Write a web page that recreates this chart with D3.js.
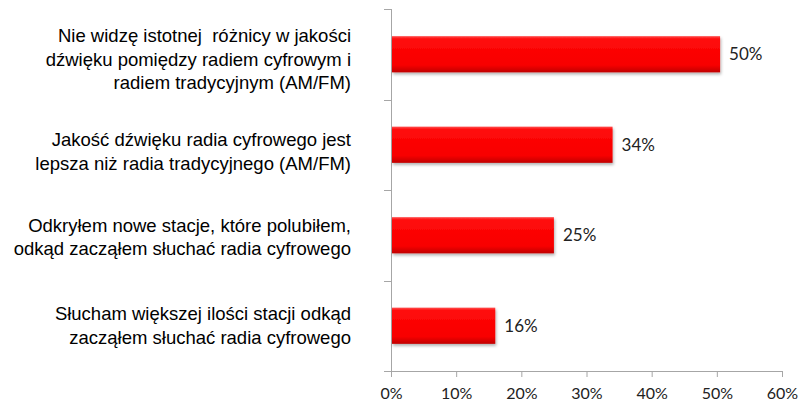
<!DOCTYPE html>
<html lang="pl">
<head>
    <meta charset="UTF-8">
    <title>Radio cyfrowe</title>
    <script src="https://d3js.org/d3.v7.min.js"></script>
    <style>
        body {
            margin: 0;
            background: #fff;
        }
        .cat {
            font-family: "Liberation Sans", Arial, sans-serif;
            font-size: 18.5px;
            fill: #000;
        }
        .val {
            font-family: Lato, "Open Sans", sans-serif;
            font-size: 17px;
            fill: #222;
        }
        .tick text {
            font-family: Lato, "Open Sans", sans-serif;
            font-size: 16px;
            fill: #222;
        }
    </style>
</head>
<body>
    <div id="chart"></div>

    <script>
        // dane
        const categories = [
            ["Nie widzę istotnej  różnicy w jakości", "dźwięku pomiędzy radiem cyfrowym i", "radiem tradycyjnym (AM/FM)"],
            ["Jakość dźwięku radia cyfrowego jest", "lepsza niż radia tradycyjnego (AM/FM)"],
            ["Odkryłem nowe stacje, które polubiłem,", "odkąd zacząłem słuchać radia cyfrowego"],
            ["Słucham większej ilości stacji odkąd", "zacząłem słuchać radia cyfrowego"]
        ];
        const values = [50.5, 34, 25, 16];
        const valueLabels = ["50%", "34%", "25%", "16%"];
        const xTicks = [0, 10, 20, 30, 40, 50, 60];

        const width = 802, height = 403;
        const margin = { top: 9, right: 20, bottom: 32, left: 391 };

        const svg = d3.select("#chart").append("svg")
            .attr("width", width)
            .attr("height", height);

        const defs = svg.append("defs");
        const grad = defs.append("linearGradient")
            .attr("id", "barGrad")
            .attr("x1", 0).attr("y1", 0).attr("x2", 0).attr("y2", 1);
        grad.append("stop").attr("offset", "0%").attr("stop-color", "#ff5050");
        grad.append("stop").attr("offset", "8%").attr("stop-color", "#ff0a0a");
        grad.append("stop").attr("offset", "80%").attr("stop-color", "#f80000");
        grad.append("stop").attr("offset", "100%").attr("stop-color", "#c00000");

        const shadow = defs.append("filter").attr("id", "shadow")
            .attr("x", "-5%").attr("y", "-20%").attr("width", "115%").attr("height", "150%");
        shadow.append("feDropShadow")
            .attr("dx", 1).attr("dy", 2).attr("stdDeviation", 1.5)
            .attr("flood-color", "#000").attr("flood-opacity", 0.3);

        const x = d3.scaleLinear()
            .domain([0, 60])
            .range([margin.left, 782]);

        const y = d3.scaleBand()
            .domain(d3.range(categories.length))
            .range([margin.top, height - margin.bottom])
            .paddingInner(0.6)
            .paddingOuter(0.3);

        // osie
        const xAxis = svg.append("g")
            .attr("transform", `translate(0,${height - margin.bottom})`)
            .call(d3.axisBottom(x).tickValues(xTicks).tickFormat(d => d + "%").tickSize(6).tickSizeOuter(0));
        xAxis.select(".domain").attr("stroke", "#a6a6a6").attr("d", `M${margin.left - 6},0.5H${x(60)}`);
        xAxis.selectAll(".tick line").attr("stroke", "#a6a6a6");
        xAxis.selectAll(".tick text").attr("y", 22).attr("dy", "0.35em");

        // linia osi Y z podziałkami na granicach kategorii
        const step = y.step();
        const bounds = d3.range(categories.length + 1).map(i => margin.top + i * step);
        const yAxis = svg.append("g");
        yAxis.append("line")
            .attr("x1", margin.left + 0.5).attr("x2", margin.left + 0.5)
            .attr("y1", margin.top).attr("y2", height - margin.bottom)
            .attr("stroke", "#a6a6a6");
        yAxis.selectAll("line.yt")
            .data(bounds)
            .enter().append("line")
            .attr("class", "yt")
            .attr("x1", margin.left - 7).attr("x2", margin.left)
            .attr("y1", d => Math.round(d) + 0.5).attr("y2", d => Math.round(d) + 0.5)
            .attr("stroke", "#a6a6a6");

        // słupki
        svg.append("g")
            .selectAll("rect")
            .data(values)
            .enter().append("rect")
            .attr("x", margin.left + 1)
            .attr("y", (d, i) => y(i))
            .attr("width", d => x(d) - margin.left - 1)
            .attr("height", y.bandwidth())
            .attr("fill", "url(#barGrad)")
            .attr("filter", "url(#shadow)");

        // etykiety wartości
        svg.append("g")
            .selectAll("text")
            .data(values)
            .enter().append("text")
            .attr("class", "val")
            .attr("x", d => x(d) + 9)
            .attr("y", (d, i) => y(i) + y.bandwidth() / 2)
            .attr("dy", "0.35em")
            .text((d, i) => valueLabels[i]);

        // etykiety kategorii (Excel przesuwa je nieco nierówno)
        const lineH = 23.5;
        const shiftY = [5, 7, 2, 0];
        const catG = svg.append("g");
        categories.forEach((lines, i) => {
            const cy = margin.top + (i + 0.5) * step + shiftY[i];
            const t = catG.append("text")
                .attr("class", "cat")
                .attr("text-anchor", "end");
            lines.forEach((ln, j) => {
                t.append("tspan")
                    .attr("x", 351)
                    .attr("y", cy + (j - (lines.length - 1) / 2) * lineH)
                    .attr("dy", "0.35em")
                    .style("white-space", "pre")
                    .text(ln);
            });
        });
    </script>
</body>
</html>
